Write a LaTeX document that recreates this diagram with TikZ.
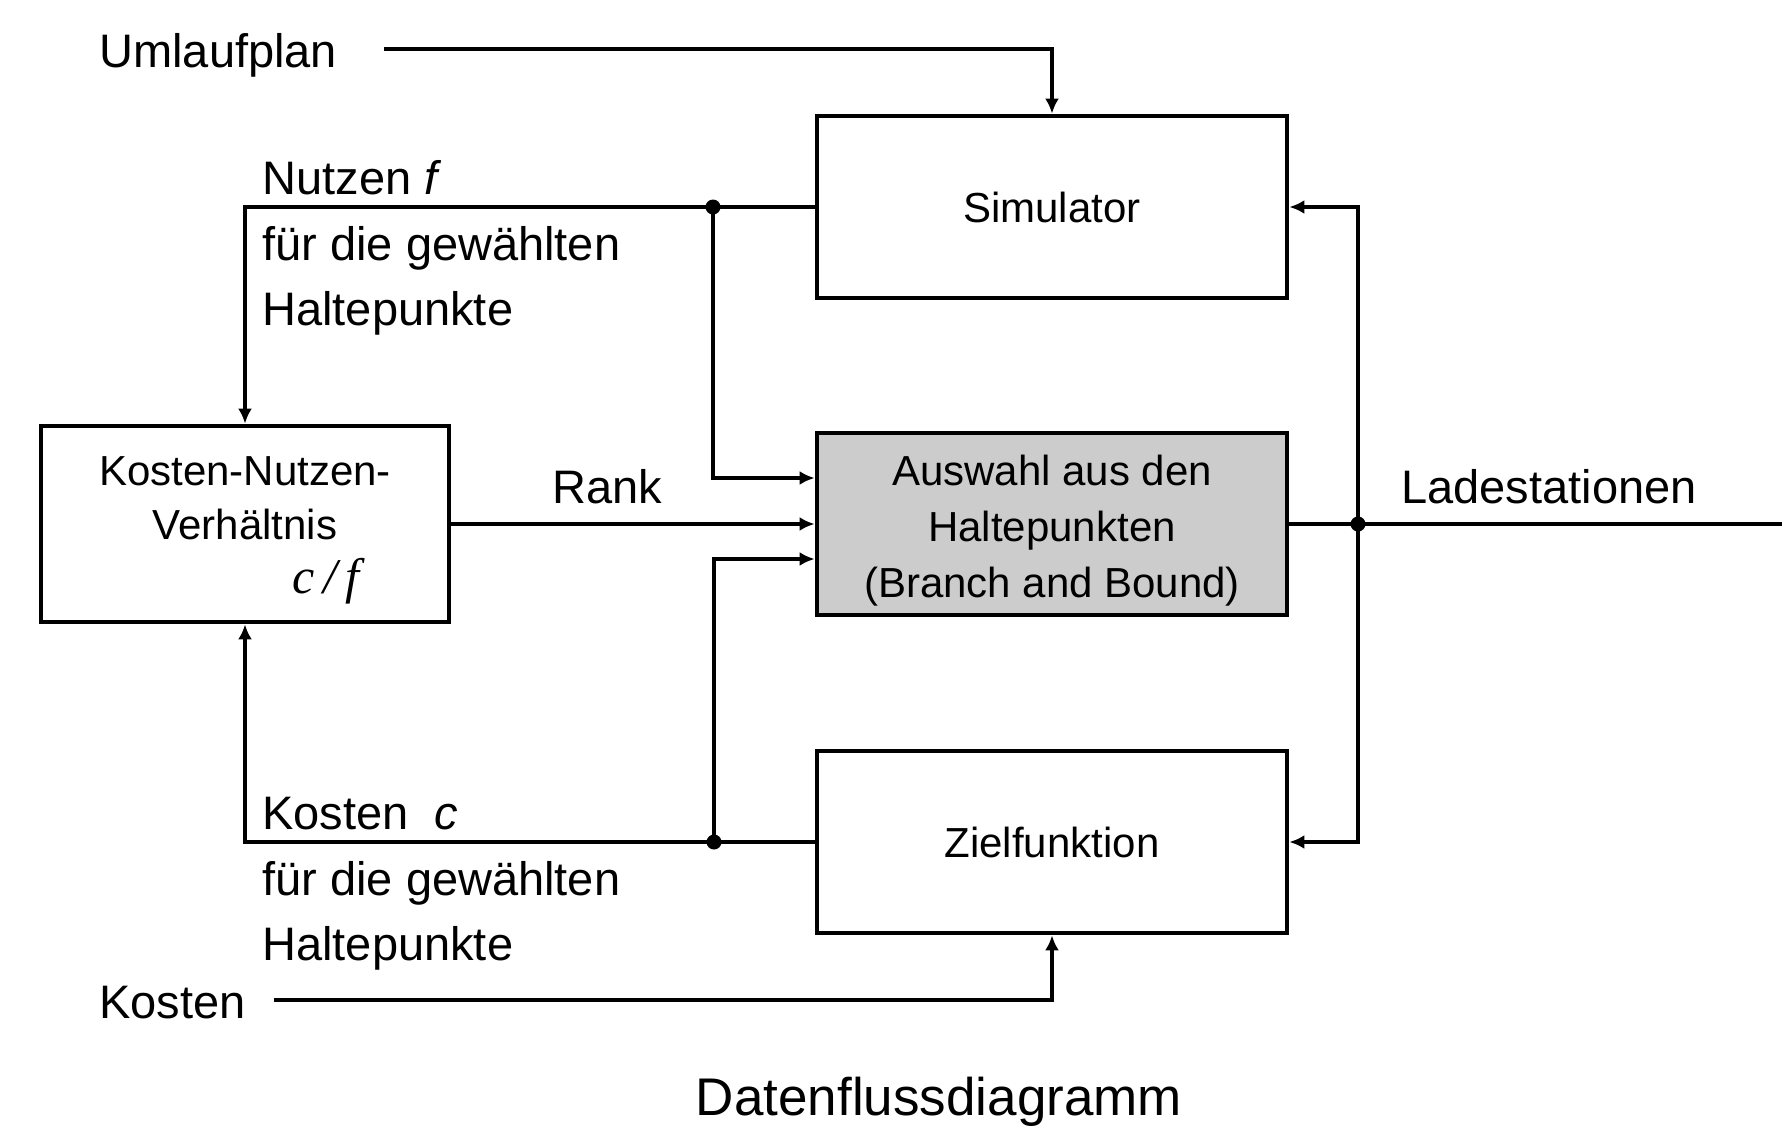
\documentclass[tikz,border=0pt]{standalone}
\usepackage{fontspec}
\setmainfont{Liberation Sans}
\newfontfamily\cfserif{Liberation Serif}
\usetikzlibrary{arrows.meta}
\definecolor{boxgray}{HTML}{CCCCCC}
\begin{document}
\begin{tikzpicture}[x=0.5pt,y=-0.5pt,
  box/.style={draw, line width=2.4pt, minimum width=235pt, minimum height=91pt, inner sep=0pt, align=center, font=\fontsize{21}{28}\selectfont},
  lbl/.style={anchor=base west, inner sep=0pt, font=\fontsize{23.5}{28}\selectfont},
  conn/.style={line width=1.7pt},
  arr/.style={conn, -{Latex[length=7.5pt,width=7pt]}},
  dot/.style={circle, fill, inner sep=0pt, minimum size=7.5pt}]
\useasboundingbox (0,0) rectangle (1782,1125);

% boxes
\node[box] (sim) at (1052,207) {Simulator};
\node[box, fill=boxgray] (ausw) at (1052,524) {\rule{0pt}{22pt}Auswahl aus den\\Haltepunkten\\(Branch and Bound)};
\node[box] (ziel) at (1052,842) {Zielfunktion};
\node[box, minimum width=204pt, minimum height=98pt, font=\fontsize{21}{27}\selectfont] (kn) at (245,524) {\rule{0pt}{20.5pt}Kosten-Nutzen-\\Verhältnis\\\hspace*{81pt}{\cfserif\itshape\fontsize{25}{27}\selectfont c\,/\,f}};

% free ends and entry points
\coordinate (uS) at (384,49);
\coordinate (kS) at (274,1000);
\coordinate (outE) at (1782,524);
\coordinate (in1) at ([yshift=23pt]ausw.west);
\coordinate (in3) at ([yshift=-17.5pt]ausw.west);

% junction dots
\node[dot] (dN) at (713,207) {};
\node[dot] (dK) at (714,842) {};
\node[dot] (dL) at (1358,524) {};

% connectors
\draw[arr] (uS) -| (sim.north);
\draw[arr] (sim.west) -| (kn.north);
\draw[arr] (dN.center) |- (in1);
\draw[arr] (kn.east) -- (ausw.west);
\draw[arr] (ziel.west) -| (kn.south);
\draw[arr] (dK.center) |- (in3);
\draw[arr] (kS) -| (ziel.south);
\draw[conn] (ausw.east) -- (outE);
\draw[arr] (dL.center) |- (sim.east);
\draw[arr] (dL.center) |- (ziel.east);

% labels
\node[lbl] (tU) at (99,67) {Umlaufplan};
\node[lbl] (tN1) at (262,194) {Nutzen \textit{f}};
\node[lbl] (tN2) at (262,260) {für die gewählten};
\node[lbl] (tN3) at (262,325) {Haltepunkte};
\node[lbl] (tRank) at (552,503) {Rank};
\node[lbl] (tL) at (1401,503) {Ladestationen};
\node[lbl] (tK1) at (262,829) {Kosten\hspace{0.55em}\textit{c}};
\node[lbl] (tK2) at (262,895) {für die gewählten};
\node[lbl] (tK3) at (262,960) {Haltepunkte};
\node[lbl] (tK) at (99,1018) {Kosten};
\node[anchor=base, inner sep=0pt, font=\fontsize{26.5}{30}\selectfont] (title) at (939,1115) {Datenflussdiagramm};
\end{tikzpicture}
\end{document}
